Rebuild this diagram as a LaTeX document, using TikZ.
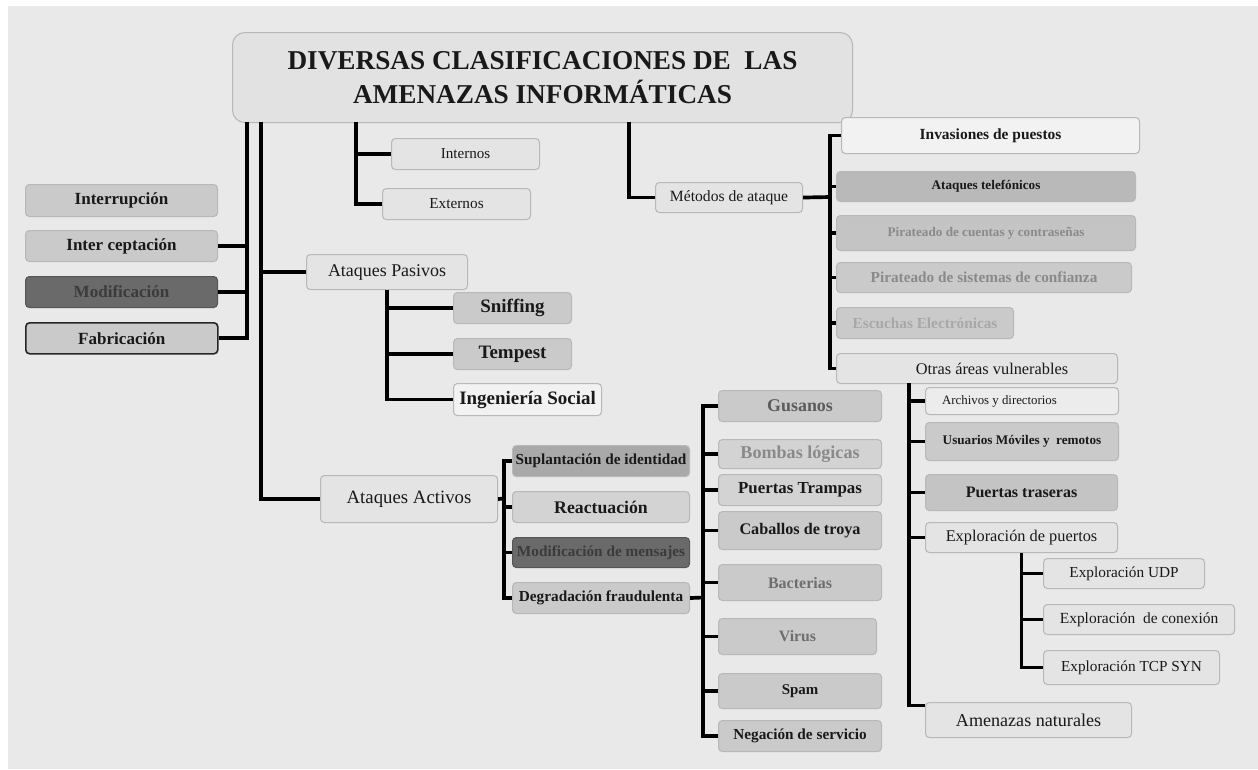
\documentclass[tikz,border=0pt]{standalone}
\usepackage{fontspec}
\setmainfont{Liberation Serif}
\usetikzlibrary{positioning}
\definecolor{bgc}{HTML}{E9E9E9}
\definecolor{edge}{HTML}{B8B8B8}
\definecolor{light}{HTML}{E4E4E4}
\definecolor{ttl}{HTML}{E2E2E2}
\definecolor{pale}{HTML}{D3D3D3}
\definecolor{mid}{HTML}{CACACA}
\definecolor{midb}{HTML}{C4C4C4}
\definecolor{deep}{HTML}{B9B9B9}
\definecolor{darker}{HTML}{A9A9A9}
\definecolor{dark}{HTML}{6A6A6A}
\definecolor{darkedge}{HTML}{555555}
\definecolor{darktext}{HTML}{3B3B3B}
\definecolor{whitish}{HTML}{F2F2F2}
\definecolor{soft}{HTML}{ECECEC}
\definecolor{greytext}{HTML}{6E6E6E}
\definecolor{greytextb}{HTML}{5C5C5C}
\definecolor{paletext}{HTML}{8A8A8A}
\definecolor{faint}{HTML}{A8A8A8}

\begin{document}
\begin{tikzpicture}[x=0.02cm,y=-0.02cm,
  box/.style={draw=edge,line width=0.6pt,rounded corners=2.2pt,fill=light,anchor=north west,inner sep=0pt,text=black!90},
  wh/.style 2 args={minimum width=#1*0.02cm,minimum height=#2*0.02cm},
  rg/.style={font=\fontsize{#1}{#1}\selectfont},
  bd/.style={font=\fontsize{#1}{#1}\selectfont\bfseries},
  link/.style={line width=2.1pt}]
\useasboundingbox (0,0) rectangle (1258,769);
\fill[white] (0,0) rectangle (1258,769);
\fill[bgc] (8,6) rectangle (1258,769);
% title
\node[box,fill=ttl,rounded corners=7pt,wh={620}{90},align=center,font=\fontsize{15.5}{19.3}\selectfont\bfseries] (title) at (232,32) {DIVERSAS CLASIFICACIONES DE\ \ LAS\\AMENAZAS INFORMÁTICAS};
% left column
\node[box,fill=mid,wh={192}{32},bd=9.7] (intr) at (25,184) {Interrupción};
\node[box,fill=mid,wh={192}{31},bd=9.7] (intc) at (25,230) {Inter ceptación};
\node[box,fill=dark,draw=darkedge,wh={192}{31},bd=9.7,text=darktext] (modi) at (25,276) {Modificación};
\node[box,fill=mid,draw=black!85,line width=0.9pt,wh={192}{31},bd=9.7] (fabr) at (25,322) {Fabricación};
% internos / externos
\node[box,wh={148}{31},rg=8.6] (inte) at (391,138) {Internos};
\node[box,wh={148}{31},rg=8.7] (exte) at (382,188) {Externos};
% pasivos
\node[box,wh={161}{35},rg=10.2] (pasi) at (306,254) {Ataques Pasivos};
\node[box,fill=mid,wh={118}{31},bd=10.8] (snif) at (453,292) {Sniffing};
\node[box,fill=mid,wh={118}{31},bd=10.8] (temp) at (453,338) {Tempest};
\node[box,fill=whitish,wh={148}{32},bd=10.8] (inge) at (453,383) {Ingeniería Social};
% activos
\node[box,wh={177}{47},rg=10.7] (acti) at (320,475) {Ataques Activos};
\node[box,fill=darker,wh={177}{31},bd=8.7] (supl) at (512,445) {Suplantación de identidad};
\node[box,fill=pale,wh={177}{31},bd=10.1] (reac) at (512,491) {Reactuación};
\node[box,fill=dark,draw=darkedge,wh={177}{30},bd=8.7,text=darktext] (mmsj) at (512,537) {Modificación de mensajes};
\node[box,fill=mid,wh={177}{31},bd=8.7] (degr) at (512,582) {Degradación fraudulenta};
% degradacion
\node[box,fill=mid,wh={163}{31},bd=10.2,text=greytextb] (gusa) at (718,390) {Gusanos};
\node[box,fill=pale,wh={163}{29},bd=10.3,text=paletext] (bomb) at (718,439) {Bombas lógicas};
\node[box,fill=pale,wh={163}{31},bd=9.6] (ptra) at (718,474) {Puertas Trampas};
\node[box,fill=mid,wh={163}{38},bd=9.2] (caba) at (718,511) {Caballos de troya};
\node[box,fill=mid,wh={163}{36},bd=9.1,text=greytext] (bact) at (718,564) {Bacterias};
\node[box,fill=mid,wh={158}{36},bd=9,text=greytext] (viru) at (718,618) {Virus};
\node[box,fill=mid,wh={163}{35},bd=8.5] (spam) at (718,673) {Spam};
\node[box,fill=mid,wh={163}{31},bd=8.7] (nega) at (718,720) {Negación de servicio};
% metodos
\node[box,wh={147}{30},rg=8.9] (meto) at (655,182) {Métodos de ataque};
\node[box,fill=whitish,wh={298}{36},bd=8.8] (inva) at (841,117) {Invasiones de puestos};
\node[box,fill=deep,wh={299}{30},bd=7.5] (atel) at (836,171) {Ataques telefónicos};
\node[box,fill=midb,wh={299}{35},bd=7.5,text=paletext] (pcue) at (836,215) {Pirateado de cuentas y contraseñas};
\node[box,fill=mid,wh={295}{30},bd=8.7,text=paletext] (psis) at (836,262) {Pirateado de sistemas de confianza};
\node[box,fill=mid,wh={177}{31},bd=8.7,text=faint] (escu) at (836,307) {Escuchas Electrónicas};
\node[box,wh={281}{30},rg=9.3] (otra) at (836,353) {\hspace*{0.6cm}Otras áreas vulnerables};
% otras areas
\node[box,fill=soft,wh={193}{27},rg=7.3] (arch) at (925,387) {Archivos y directorios\hspace*{0.9cm}};
\node[box,fill=mid,wh={193}{38},bd=7.5] (usua) at (925,422) {Usuarios Móviles y\ \ remotos};
\node[box,fill=midb,wh={192}{36},bd=9.1] (ptrs) at (925,474) {Puertas traseras};
\node[box,wh={192}{30},rg=9.3] (expl) at (925,522) {Exploración de puertos};
\node[box,wh={206}{35},rg=10.3] (amen) at (925,702) {Amenazas naturales};
\node[box,wh={161}{30},rg=8.7] (eudp) at (1043,558) {Exploración UDP};
\node[box,wh={191}{30},rg=8.8] (econ) at (1043,604) {Exploración\ \ de conexión};
\node[box,wh={176}{34},rg=8.7] (etcp) at (1043,650) {Exploración TCP SYN};
% connectors
\coordinate (a1) at (247,122); \coordinate (b1) at (261,122);
\coordinate (c1) at (356,122); \coordinate (g1) at (629,122);
\coordinate (e1) at (504,498.5); \coordinate (f1) at (703,597.5);
\coordinate (h1) at (830,197); \coordinate (i1) at (909,383);
\draw[link] (a1) |- (fabr.east);
\draw[link] (intc.east -| a1) -- (intc.east); \draw[link] (modi.east -| a1) -- (modi.east);
\draw[link] (b1) |- (acti.west); \draw[link] (pasi.west -| b1) -- (pasi.west);
\draw[link] (c1) |- (exte.west); \draw[link] (inte.west -| c1) -- (inte.west);
\draw[link] (pasi.south) |- (inge.west);
\draw[link] (snif.west -| pasi.south) -- (snif.west); \draw[link] (temp.west -| pasi.south) -- (temp.west);
\draw[link] (acti.east) -- (e1);
\draw[link] (supl.west) -| (e1) |- (degr.west);
\draw[link] (reac.west -| e1) -- (reac.west); \draw[link] (mmsj.west -| e1) -- (mmsj.west);
\draw[link] (degr.east) -- (f1);
\draw[link] (gusa.west) -| (f1) |- (nega.west);
\foreach \n in {bomb,ptra,caba,bact,viru,spam}
  \draw[link] (\n.west -| f1) -- (\n.west);
\draw[link] (g1) |- (meto.west);
\draw[link] (meto.east) -- (h1);
\draw[link] (inva.west) -| (h1) |- (otra.west);
\foreach \n in {atel,pcue,psis,escu}
  \draw[link] (\n.west -| h1) -- (\n.west);
\draw[link] (i1) |- ([yshift=-2pt]amen.north west);
\foreach \n in {arch,usua,ptrs,expl}
  \draw[link] (\n.west -| i1) -- (\n.west);
\draw[link] (expl.south) |- (etcp.west);
\draw[link] (eudp.west -| expl.south) -- (eudp.west); \draw[link] (econ.west -| expl.south) -- (econ.west);
\end{tikzpicture}
\end{document}
